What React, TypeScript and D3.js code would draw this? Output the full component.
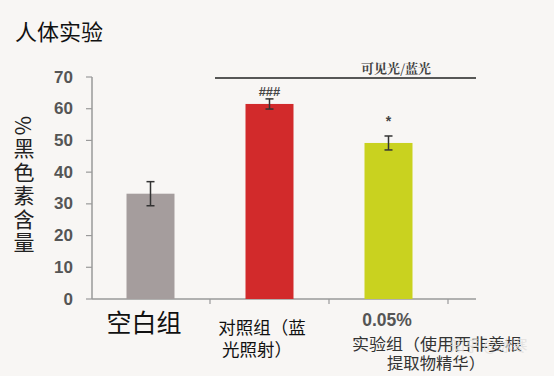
import React from "react";
import * as d3 from "d3";

const categories = ["空白组", "对照组", "实验组"];
const values = [33.2, 61.5, 49.2];
const errors = [3.8, 1.6, 2.2];
const marks = ["", "###", "*"];
const barColors = ["#a59d9d", "#d22a2b", "#c9d21f"];
const yTicks = [0, 10, 20, 30, 40, 50, 60, 70];
const yLabel = "%黑色素含量";

export default function App() {
  const W = 554, H = 376;
  const y = d3.scaleLinear().domain([0, 70]).range([299, 77]);
  const x = d3.scaleBand().domain(categories).range([91, 448]).paddingInner(0).paddingOuter(0);
  const barW = 48;
  const sans = "Liberation Sans, Arial, sans-serif";
  const cjk = "Noto Sans CJK SC, sans-serif";
  return (
    <svg width={W} height={H} style={{ position: "absolute", left: 0, top: 0, background: "#f8f6f4" }}>
      <rect x={0} y={0} width={W} height={H} fill="#f8f6f4" />
      <text x={15} y={40} fontSize={22} fontFamily={cjk} fill="#111">人体实验</text>
      {/* y axis label */}
      <text x={24} y={116} fontSize={21} fontFamily={cjk} fill="#222" letterSpacing={2.5}
        style={{ writingMode: "vertical-rl" } as any}>{yLabel}</text>
      {/* y axis */}
      <line x1={92} x2={92} y1={y(70)} y2={y(0)} stroke="#9a9a9a" strokeWidth={1.5} />
      {yTicks.map(t => (
        <g key={t}>
          <line x1={86} x2={92} y1={y(t)} y2={y(t)} stroke="#9a9a9a" strokeWidth={1.2} />
          <text x={73} y={y(t)} fontSize={17} fontWeight="bold" fontFamily={sans} fill="#555" textAnchor="end" dominantBaseline="central">{t}</text>
        </g>
      ))}
      {/* x axis */}
      <line x1={92} x2={476} y1={y(0)} y2={y(0)} stroke="#9a9a9a" strokeWidth={1.5} />
      {categories.map((c) => (
        <line key={c} x1={(x(c) as number) + x.bandwidth()} x2={(x(c) as number) + x.bandwidth()} y1={y(0)} y2={y(0) + 5} stroke="#9a9a9a" strokeWidth={1.2} />
      ))}
      {/* bars */}
      {categories.map((c, i) => {
        const cx = (x(c) as number) + x.bandwidth() / 2;
        return (
          <g key={c}>
            <rect x={cx - barW / 2} y={y(values[i])} width={barW} height={y(0) - y(values[i])} fill={barColors[i]} />
            <line x1={cx} x2={cx} y1={y(values[i] + errors[i])} y2={y(values[i] - errors[i])} stroke="#333" strokeWidth={1.5} />
            <line x1={cx - 4} x2={cx + 4} y1={y(values[i] + errors[i])} y2={y(values[i] + errors[i])} stroke="#333" strokeWidth={1.5} />
            <line x1={cx - 4} x2={cx + 4} y1={y(values[i] - errors[i])} y2={y(values[i] - errors[i])} stroke="#333" strokeWidth={1.5} />
            {marks[i] && (
              <text x={cx} y={i === 1 ? y(values[i] + errors[i]) - 3 : y(values[i] + errors[i]) - 10} fontSize={i === 1 ? 13 : 14} fontWeight="bold" fontFamily={sans} fill="#444" textAnchor="middle">{marks[i]}</text>
            )}
          </g>
        );
      })}
      {/* bracket line */}
      <line x1={215} x2={476} y1={78} y2={78} stroke="#222" strokeWidth={1.5} />
      <text x={396} y={73} fontSize={13} fontWeight="bold" fontFamily="Noto Serif CJK SC, Noto Sans CJK SC, serif" fill="#444" textAnchor="middle">可见光/蓝光</text>
      {/* x labels */}
      <text x={144} y={332} fontSize={25} fontFamily={cjk} fill="#111" textAnchor="middle">空白组</text>
      <text x={262} y={334} fontSize={17.5} fontFamily={cjk} fill="#111" textAnchor="middle">对照组（蓝</text>
      <text x={257} y={356} fontSize={17.5} fontFamily={cjk} fill="#111" textAnchor="middle">光照射）</text>
      <text x={387} y={326} fontSize={17.5} fontWeight="bold" fontFamily={sans} fill="#555" textAnchor="middle">0.05%</text>
      <text x={437} y={350} fontSize={16} textLength={170} lengthAdjust="spacingAndGlyphs" fontFamily={cjk} fill="#333" textAnchor="middle">实验组（使用西非姜根</text>
      <text x={436} y={369} fontSize={16} textLength={98} lengthAdjust="spacingAndGlyphs" fontFamily={cjk} fill="#333" textAnchor="middle">提取物精华）</text>
      <text x={450} y={351} fontSize={15} fontFamily={cjk} fill="#e2e0de" fillOpacity={0.85}>知乎 @冰寒</text>
    </svg>
  );
}
